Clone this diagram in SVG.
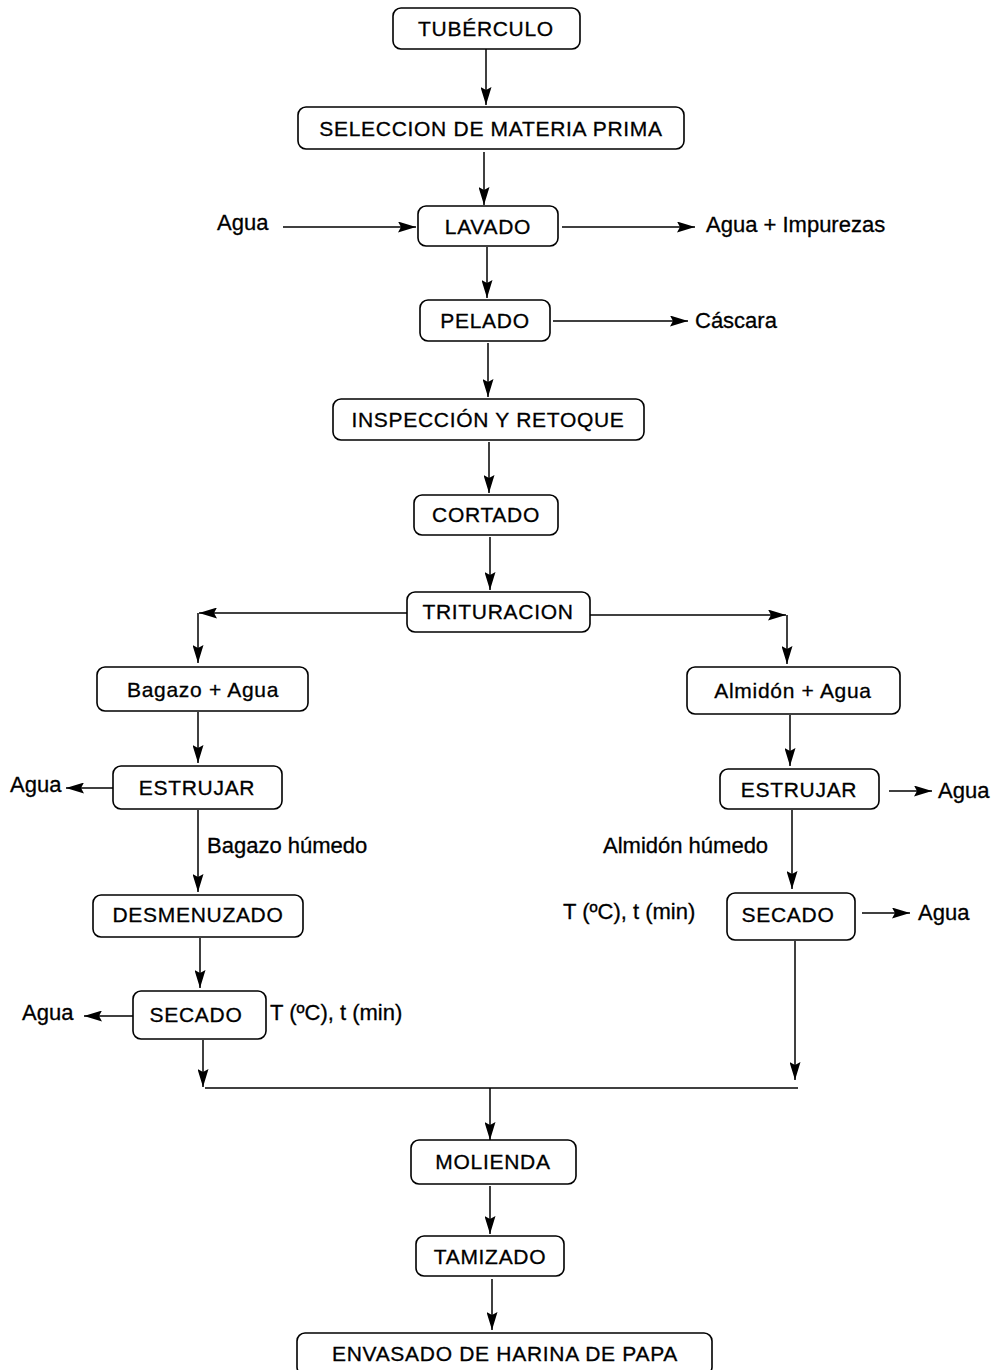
<svg xmlns="http://www.w3.org/2000/svg" width="1000" height="1370" viewBox="0 0 1000 1370">
<style>
.box{fill:#fff;stroke:#000;stroke-width:1.6}
.t{font-family:"Liberation Sans",Arial,sans-serif;font-size:22px;fill:#000;stroke:#000;stroke-width:0.3}
.b{font-size:21px;letter-spacing:0.7px}
.c{text-anchor:middle}
.ln{fill:none;stroke:#000;stroke-width:1.5}
</style>
<defs>
<marker id="ah" viewBox="0 0 18 11" refX="18" refY="5.5" markerWidth="18" markerHeight="11" markerUnits="userSpaceOnUse" orient="auto">
<path d="M0,0 L18,5.5 L0,11 L3,5.5 Z" fill="#000"/>
</marker>
</defs>
<rect width="1000" height="1370" fill="#fff"/>
<g id="connectors">
<line class="ln" x1="486" y1="48" x2="486" y2="105" marker-end="url(#ah)"/>
<line class="ln" x1="484" y1="152" x2="484" y2="205" marker-end="url(#ah)"/>
<line class="ln" x1="283" y1="227" x2="416" y2="227" marker-end="url(#ah)"/>
<line class="ln" x1="562" y1="227" x2="695" y2="227" marker-end="url(#ah)"/>
<line class="ln" x1="487" y1="247" x2="487" y2="298" marker-end="url(#ah)"/>
<line class="ln" x1="553" y1="321" x2="688" y2="321" marker-end="url(#ah)"/>
<line class="ln" x1="488" y1="343" x2="488" y2="397" marker-end="url(#ah)"/>
<line class="ln" x1="489" y1="442" x2="489" y2="493" marker-end="url(#ah)"/>
<line class="ln" x1="490" y1="537" x2="490" y2="590" marker-end="url(#ah)"/>
<line class="ln" x1="407" y1="613" x2="199" y2="613" marker-end="url(#ah)"/>
<line class="ln" x1="198" y1="613" x2="198" y2="663" marker-end="url(#ah)"/>
<line class="ln" x1="590" y1="615" x2="786" y2="615" marker-end="url(#ah)"/>
<line class="ln" x1="787" y1="615" x2="787" y2="664" marker-end="url(#ah)"/>
<line class="ln" x1="198" y1="712" x2="198" y2="763" marker-end="url(#ah)"/>
<line class="ln" x1="113" y1="788" x2="66" y2="788" marker-end="url(#ah)"/>
<line class="ln" x1="198" y1="810" x2="198" y2="892" marker-end="url(#ah)"/>
<line class="ln" x1="200" y1="938" x2="200" y2="988" marker-end="url(#ah)"/>
<line class="ln" x1="133" y1="1016" x2="84" y2="1016" marker-end="url(#ah)"/>
<line class="ln" x1="203" y1="1040" x2="203" y2="1087" marker-end="url(#ah)"/>
<line class="ln" x1="790" y1="715" x2="790" y2="766" marker-end="url(#ah)"/>
<line class="ln" x1="889" y1="791" x2="932" y2="791" marker-end="url(#ah)"/>
<line class="ln" x1="792" y1="810" x2="792" y2="889" marker-end="url(#ah)"/>
<line class="ln" x1="862" y1="913" x2="910" y2="913" marker-end="url(#ah)"/>
<line class="ln" x1="795" y1="941" x2="795" y2="1080" marker-end="url(#ah)"/>
<line class="ln" x1="205" y1="1088" x2="798" y2="1088"/>
<line class="ln" x1="490" y1="1088" x2="490" y2="1140" marker-end="url(#ah)"/>
<line class="ln" x1="490" y1="1186" x2="490" y2="1234" marker-end="url(#ah)"/>
<line class="ln" x1="492" y1="1279" x2="492" y2="1330" marker-end="url(#ah)"/>
</g>
<g id="n-tuberculo"><rect class="box" x="393" y="8" width="187" height="41" rx="8"/><text class="t b c" x="486" y="36">TUBÉRCULO</text></g>
<g id="n-seleccion"><rect class="box" x="298" y="107" width="386" height="42" rx="8"/><text class="t b c" x="491" y="136">SELECCION DE MATERIA PRIMA</text></g>
<g id="n-lavado"><rect class="box" x="418" y="206" width="140" height="40" rx="8"/><text class="t b c" x="488" y="234">LAVADO</text></g>
<g id="n-pelado"><rect class="box" x="420" y="300" width="130" height="41" rx="8"/><text class="t b c" x="485" y="328">PELADO</text></g>
<g id="n-inspeccion"><rect class="box" x="333" y="399" width="311" height="41" rx="8"/><text class="t b c" x="488" y="427">INSPECCIÓN Y RETOQUE</text></g>
<g id="n-cortado"><rect class="box" x="414" y="495" width="144" height="40" rx="8"/><text class="t b c" x="486" y="522">CORTADO</text></g>
<g id="n-trituracion"><rect class="box" x="407" y="592" width="183" height="40" rx="8"/><text class="t b c" x="498" y="619">TRITURACION</text></g>
<g id="n-bagazo"><rect class="box" x="97" y="667" width="211" height="44" rx="8"/><text class="t b c" x="203" y="697">Bagazo + Agua</text></g>
<g id="n-almidon"><rect class="box" x="687" y="667" width="213" height="47" rx="8"/><text class="t b c" x="793" y="698">Almidón + Agua</text></g>
<g id="n-estrujar1"><rect class="box" x="113" y="766" width="169" height="43" rx="8"/><text class="t b c" x="197" y="795">ESTRUJAR</text></g>
<g id="n-estrujar2"><rect class="box" x="720" y="769" width="159" height="40" rx="8"/><text class="t b c" x="799" y="797">ESTRUJAR</text></g>
<g id="n-desmenuzado"><rect class="box" x="93" y="895" width="210" height="42" rx="8"/><text class="t b c" x="198" y="922">DESMENUZADO</text></g>
<g id="n-secado1"><rect class="box" x="133" y="991" width="133" height="48" rx="8"/><text class="t b c" x="196" y="1022">SECADO</text></g>
<g id="n-secado2"><rect class="box" x="727" y="893" width="128" height="47" rx="8"/><text class="t b c" x="788" y="922">SECADO</text></g>
<g id="n-molienda"><rect class="box" x="411" y="1140" width="165" height="44" rx="8"/><text class="t b c" x="493" y="1169">MOLIENDA</text></g>
<g id="n-tamizado"><rect class="box" x="416" y="1236" width="148" height="40" rx="8"/><text class="t b c" x="490" y="1264">TAMIZADO</text></g>
<g id="n-envasado"><rect class="box" x="297" y="1333" width="415" height="42" rx="8"/><text class="t b c" x="505" y="1361">ENVASADO DE HARINA DE PAPA</text></g>
<g id="labels">
<text class="t" x="217" y="230">Agua</text>
<text class="t" x="706" y="232">Agua + Impurezas</text>
<text class="t" x="695" y="328">Cáscara</text>
<text class="t" x="10" y="792">Agua</text>
<text class="t" x="207" y="853">Bagazo húmedo</text>
<text class="t" x="22" y="1020">Agua</text>
<text class="t" x="270" y="1020">T (ºC), t (min)</text>
<text class="t" x="938" y="798">Agua</text>
<text class="t" x="603" y="853">Almidón húmedo</text>
<text class="t" x="563" y="919">T (ºC), t (min)</text>
<text class="t" x="918" y="920">Agua</text>
</g>
</svg>
